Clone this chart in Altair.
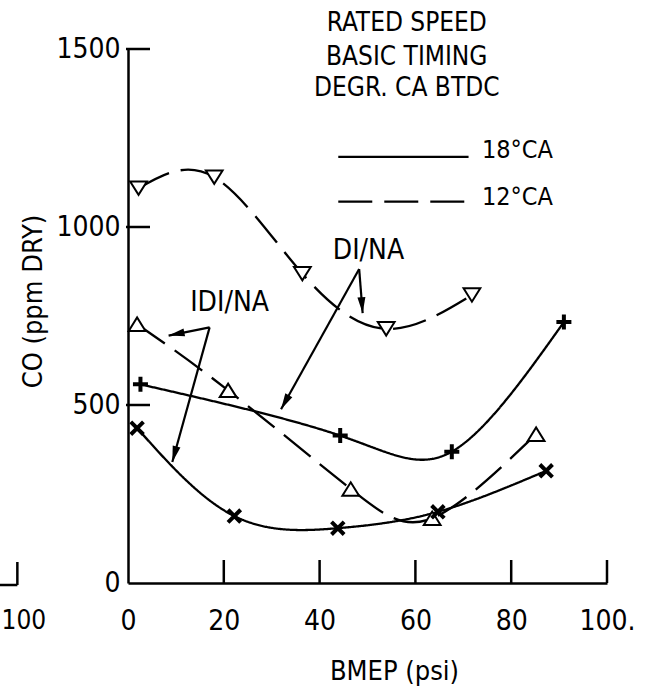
import math
import altair as alt
import pandas as pd

# plot area and scale domains
W, H = 479, 534
X_DOM = [0, 100]
Y_DOM = [0, 1500]
PX_X = W / (X_DOM[1] - X_DOM[0])
PX_Y = H / (Y_DOM[1] - Y_DOM[0])

FONT = "Liberation Sans Narrow, DejaVu Sans Condensed, Roboto Condensed, sans-serif"

# CO (ppm dry) against BMEP (psi) at rated speed
di_12_bmep = [2.2, 18.0, 36.4, 53.9, 71.8]
di_12_co = [1109, 1140, 869, 714, 809]
di_18_bmep = [2.6, 44.3, 67.6, 91.0]
di_18_co = [558, 414, 369, 733]
idi_12_bmep = [1.9, 20.9, 46.5, 63.5, 85.2]
idi_12_co = [727, 541, 264, 182, 418]
idi_18_bmep = [1.9, 22.2, 43.8, 64.7, 87.3]
idi_18_co = [435, 188, 154, 200, 315]

x_ticks = [0, 20, 40, 60, 80, 100]
y_ticks = [0, 500, 1000, 1500]

series = [
    ("DI/NA 12°CA", "12°CA", "tri_down", di_12_bmep, di_12_co),
    ("DI/NA 18°CA", "18°CA", "plus", di_18_bmep, di_18_co),
    ("IDI/NA 12°CA", "12°CA", "tri_up", idi_12_bmep, idi_12_co),
    ("IDI/NA 18°CA", "18°CA", "cross", idi_18_bmep, idi_18_co),
]
rows = []
for name, timing, marker, xs, ys in series:
    for xv, yv in zip(xs, ys):
        rows.append({"series": name, "timing": timing, "marker": marker,
                     "bmep": xv, "co": yv})
df = pd.DataFrame(rows)

AXIS_X = alt.Axis(values=x_ticks, format="d", ticks=False, grid=False,
                  domainColor="black", domainWidth=2.5,
                  labelFont=FONT, labelFontSize=28, labelColor="black",
                  labelPadding=24, labelFlush=False, labelOverlap=False,
                  labelExpr="datum.value == 100 ? '100.' : datum.label",
                  title="BMEP (psi)", titleFont=FONT, titleFontSize=27,
                  titleFontWeight="normal", titleColor="black",
                  titleX=266, titleY=88, titleAlign="center",
                  titleBaseline="middle")
AXIS_Y = alt.Axis(values=y_ticks, format="d", ticks=False, grid=False,
                  domainColor="black", domainWidth=2.5,
                  labelFont=FONT, labelFontSize=28, labelColor="black",
                  labelPadding=8, labelFlush=False, labelOverlap=False,
                  title="CO (ppm DRY)", titleFont=FONT, titleFontSize=27,
                  titleFontWeight="normal", titleColor="black",
                  titleAngle=270, titleX=-95, titleY=252,
                  titleAlign="center", titleBaseline="middle")


def xenc(field):
    return alt.X(f"{field}:Q", scale=alt.Scale(domain=X_DOM, nice=False, zero=False),
                 axis=AXIS_X)


def yenc(field):
    return alt.Y(f"{field}:Q", scale=alt.Scale(domain=Y_DOM, nice=False, zero=False),
                 axis=AXIS_Y)


def x2enc(field):
    return alt.X2(f"{field}:Q")


def y2enc(field):
    return alt.Y2(f"{field}:Q")


base = alt.Chart(df)

curves = base.mark_line(interpolate="natural", color="black", strokeWidth=2.3).encode(
    x=xenc("bmep"), y=yenc("co"), detail="series:N", order="bmep:Q",
    strokeDash=alt.StrokeDash("timing:N",
                              scale=alt.Scale(domain=["18°CA", "12°CA"],
                                              range=[[1, 0], [34, 12]]),
                              legend=None),
)

SHAPES = alt.Scale(
    domain=["tri_down", "tri_up", "plus", "cross"],
    range=["M-1,-0.8L1,-0.8L0,0.8Z", "M-1,0.8L1,0.8L0,-0.8Z",
           "M-1,0L1,0M0,-1L0,1", "M-1,-1L1,1M1,-1L-1,1"],
)

triangles = base.transform_filter(
    alt.FieldOneOfPredicate(field="marker", oneOf=["tri_down", "tri_up"])
).mark_point(filled=True, fill="white", stroke="black", strokeWidth=2,
             size=280, opacity=1).encode(
    x=xenc("bmep"), y=yenc("co"),
    shape=alt.Shape("marker:N", scale=SHAPES, legend=None),
)

crosses = base.transform_filter(
    alt.FieldOneOfPredicate(field="marker", oneOf=["plus", "cross"])
).mark_point(filled=False, stroke="black", strokeWidth=4, opacity=1).encode(
    x=xenc("bmep"), y=yenc("co"),
    shape=alt.Shape("marker:N", scale=SHAPES, legend=None),
    size=alt.Size("marker:N", scale=alt.Scale(domain=["plus", "cross"], range=[225, 160]),
                  legend=None),
)

# inward tick marks
xt = pd.DataFrame({"v": x_ticks[1:]})
yt = pd.DataFrame({"v": y_ticks[1:]})
x_tick_rules = alt.Chart(xt).mark_rule(color="black", strokeWidth=2.5).encode(
    x=xenc("v"), y=alt.value(H), y2=alt.value(H - 23))
y_tick_rules = alt.Chart(yt).mark_rule(color="black", strokeWidth=2.5).encode(
    y=yenc("v"), x=alt.value(-2), x2=alt.value(22))

# edge of the neighbouring panel's axis
left_edge = pd.DataFrame({"x": [-30.0], "x2": [-23.1]})
left_axis = alt.Chart(left_edge).mark_rule(color="black", strokeWidth=2.5).encode(
    x=xenc("x"), x2=x2enc("x2"), y=alt.value(H + 2))
left_tick = alt.Chart(left_edge).mark_rule(color="black", strokeWidth=2.5).encode(
    x=xenc("x2"), y=alt.value(H + 2), y2=alt.value(H - 21))
left_label = alt.Chart(pd.DataFrame({"x": [-26.4], "t": ["100"]})).mark_text(
    font=FONT, fontSize=26, baseline="top", align="left", color="black").encode(
    x=xenc("x"), y=alt.value(H + 25), text="t:N")

# header and line-style key
header = pd.DataFrame({
    "x": [58.2, 58.2, 58.2],
    "y": [1573, 1478, 1390],
    "t": ["RATED SPEED", "BASIC TIMING", "DEGR. CA BTDC"],
})
header_text = alt.Chart(header).mark_text(
    font=FONT, fontSize=26, align="center", baseline="middle", color="black").encode(
    x=xenc("x"), y=yenc("y"), text="t:N")

key_lines = pd.DataFrame({
    "x": [43.9, 43.9], "x2": [71.1, 71.1], "y": [1197, 1071],
    "timing": ["18°CA", "12°CA"],
})
key_rules = alt.Chart(key_lines).mark_rule(color="black", strokeWidth=2.3).encode(
    x=xenc("x"), x2=x2enc("x2"), y=yenc("y"),
    strokeDash=alt.StrokeDash("timing:N",
                              scale=alt.Scale(domain=["18°CA", "12°CA"],
                                              range=[[1, 0], [38, 13]]),
                              legend=None),
)
key_labels = pd.DataFrame({"x": [73.9, 73.9], "y": [1216, 1084],
                           "t": ["18°CA", "12°CA"]})
key_text = alt.Chart(key_labels).mark_text(
    font=FONT, fontSize=25, align="left", baseline="middle", color="black").encode(
    x=xenc("x"), y=yenc("y"), text="t:N")

# engine labels with pointer arrows
labels = pd.DataFrame({"x": [50.2, 21.2], "y": [932, 786], "t": ["DI/NA", "IDI/NA"]})
label_text = alt.Chart(labels).mark_text(
    font=FONT, fontSize=28, align="center", baseline="middle", color="black").encode(
    x=xenc("x"), y=yenc("y"), text="t:N")

arrow_defs = [
    (48.26, 882, 48.99, 758),
    (48.26, 882, 31.95, 488),
    (17.04, 718, 8.48, 695),
    (17.04, 718, 9.25, 340),
]
HEAD = 16
shafts, heads = [], []
for x0, y0, x1, y1 in arrow_defs:
    dx = (x1 - x0) * PX_X
    dy = -(y1 - y0) * PX_Y
    L = math.hypot(dx, dy)
    ux, uy = dx / L, dy / L
    ang = math.degrees(math.atan2(ux, -uy)) % 360
    shafts.append({"x": x0, "y": y0, "x2": x1, "y2": y1})
    heads.append({"x": x1 - (HEAD / 2) * ux / PX_X,
                  "y": y1 + (HEAD / 2) * uy / PX_Y, "ang": ang})
shaft_rules = alt.Chart(pd.DataFrame(shafts)).mark_rule(color="black", strokeWidth=2.2).encode(
    x=xenc("x"), y=yenc("y"), x2=x2enc("x2"), y2=y2enc("y2"))
arrow_heads = alt.Chart(pd.DataFrame(heads)).mark_point(
    shape="M0,-1L0.5,1L-0.5,1Z", filled=True, color="black", opacity=1,
    size=HEAD * HEAD, strokeWidth=0).encode(
    x=xenc("x"), y=yenc("y"),
    angle=alt.Angle("ang:Q", scale=None))

chart = alt.layer(
    curves, triangles, crosses, x_tick_rules, y_tick_rules,
    left_axis, left_tick, left_label, header_text, key_rules, key_text,
    label_text, shaft_rules, arrow_heads,
).properties(
    width=W, height=H,
    autosize=alt.AutoSizeParams(type="none"),
    padding={"left": 128, "top": 49, "right": 38, "bottom": 107},
    background="white",
).configure_view(stroke=None)

chart.save("out.html", embed_options={"renderer": "svg", "actions": False})
